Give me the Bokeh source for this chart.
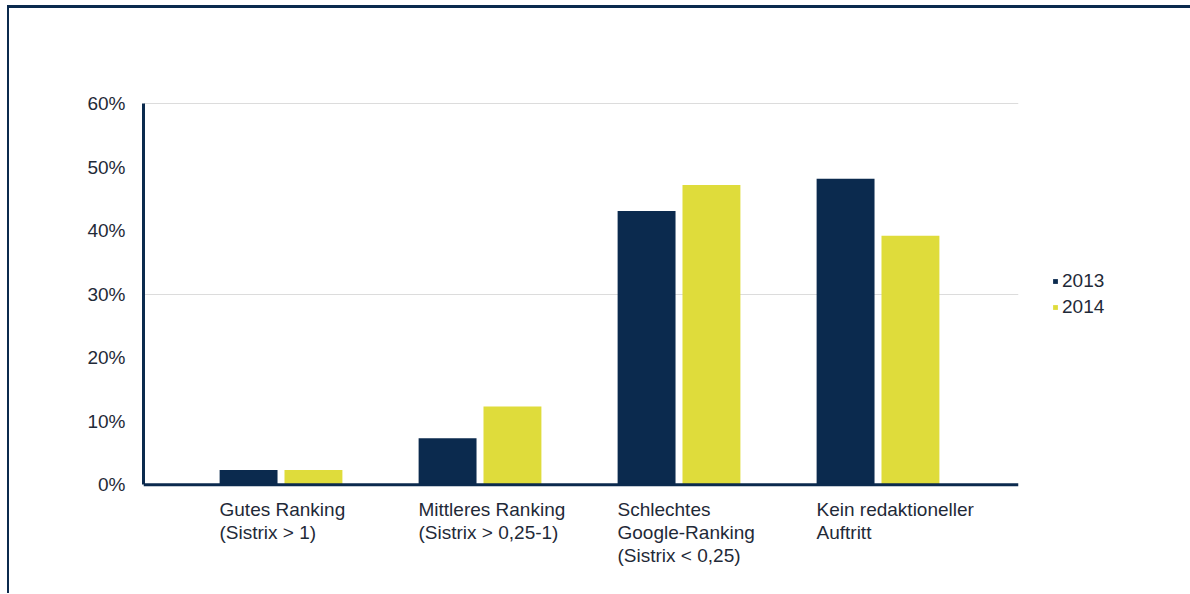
from bokeh.plotting import figure
from bokeh.models import (Range1d, FixedTicker, NumeralTickFormatter, Span,
                          Legend, LegendItem, ColumnDataSource)
from bokeh.core.properties import value
from bokeh.embed import file_html
from bokeh.resources import INLINE

categories = ["Gutes Ranking\n(Sistrix > 1)",
              "Mittleres Ranking\n(Sistrix > 0,25-1)",
              "Schlechtes\nGoogle-Ranking\n(Sistrix < 0,25)",
              "Kein redaktioneller\nAuftritt"]
series = ["2013", "2014"]
v2013 = [0.023, 0.073, 0.431, 0.482]
v2014 = [0.023, 0.123, 0.472, 0.392]
y_ticks = [0.0, 0.1, 0.2, 0.3, 0.4, 0.5, 0.6]
grid_ticks = [0.3, 0.6]

NAVY = "#0b2a4e"
YELLOW = "#dfdc3b"
TEXT = "#1f2a38"
FONT = "Liberation Sans"

idx = list(range(len(categories)))
src = ColumnDataSource(dict(
    x13=[i - 0.163 for i in idx],
    x14=[i + 0.163 for i in idx],
    xl=[i - 0.309 for i in idx],
    y0=[0.0] * len(idx),
    v13=v2013, v14=v2014, label=categories))

p = figure(frame_width=875, frame_height=476, output_backend="svg", toolbar_location=None,
           x_range=Range1d(-0.691, 3.706), y_range=Range1d(-0.14, 0.61),
           x_axis_location=None, min_border_left=134, min_border_right=170,
           min_border_top=89, min_border_bottom=20)
p.outline_line_color = None
p.background_fill_color = "white"
p.border_fill_color = "white"
p.styles = {"border-top": "3px solid " + NAVY, "border-left": "2px solid " + NAVY,
            "border-right": "1px solid #b9c4d3", "margin-top": "5px", "margin-left": "7px"}

p.xgrid.visible = False
p.ygrid.ticker = FixedTicker(ticks=grid_ticks)
p.ygrid.grid_line_color = "#dcdcdc"
p.ygrid.grid_line_width = 1

ax = p.yaxis[0]
ax.ticker = FixedTicker(ticks=y_ticks)
ax.formatter = NumeralTickFormatter(format="0%")
ax.bounds = (0, 0.6)
ax.axis_line_color = NAVY
ax.axis_line_width = 3
ax.major_tick_line_color = None
ax.minor_tick_line_color = None
ax.major_label_standoff = 12
ax.major_label_text_font = FONT
ax.major_label_text_font_size = "19px"
ax.major_label_text_color = TEXT

r13 = p.vbar(x="x13", top="v13", bottom=0, width=0.291, source=src,
             fill_color=NAVY, line_color=None)
r14 = p.vbar(x="x14", top="v14", bottom=0, width=0.291, source=src,
             fill_color=YELLOW, line_color=None)

p.add_layout(Span(location=0, dimension="width", line_color=NAVY, line_width=3))

p.text(x="xl", y="y0", text="label", source=src, y_offset=14,
       text_align="left", text_baseline="top", text_font=value(FONT),
       text_font_size="19px", text_color=TEXT, text_line_height=1.1)

legend = Legend(items=[LegendItem(label=series[0], renderers=[r13]),
                       LegendItem(label=series[1], renderers=[r14])],
                location=(34, 255), orientation="vertical",
                glyph_width=6, glyph_height=6, label_standoff=4,
                spacing=4, padding=0, margin=0, border_line_color=None,
                background_fill_alpha=0,
                label_text_font=FONT, label_text_font_size="19px",
                label_text_color=TEXT, label_height=20)
p.add_layout(legend, "right")

open("out.html", "w").write(file_html(p, INLINE))
